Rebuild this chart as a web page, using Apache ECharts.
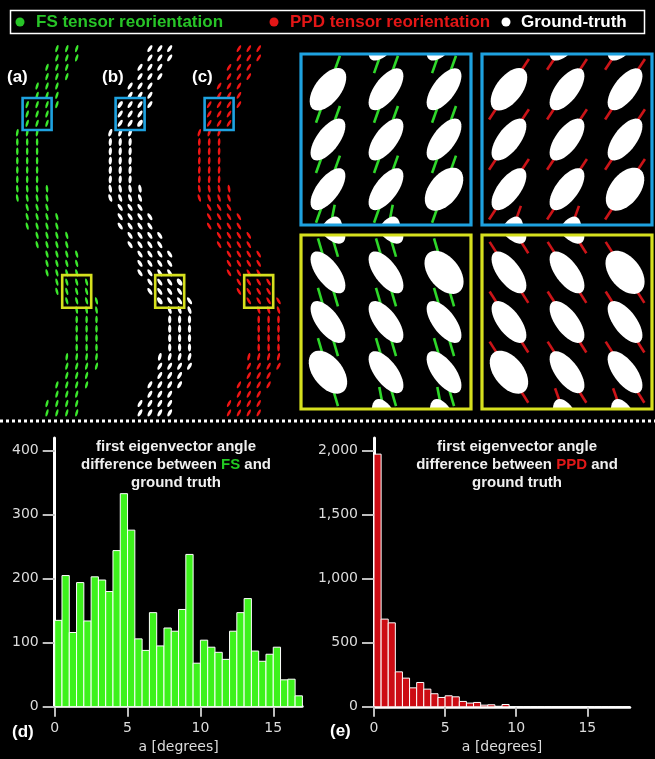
<!DOCTYPE html>
<html>
<head>
<meta charset="utf-8">
<script src="https://cdn.jsdelivr.net/npm/echarts@6/dist/echarts.min.js"></script>
<style>
  html, body { margin: 0; padding: 0; background: #000; }
  #chart { width: 655px; height: 759px; }
</style>
</head>
<body>
<div id="chart"></div>
<script>
// ---- voxel grid of the S-shaped synthetic bundle (panel units, 1 unit = 1 px) ----
const colX = [17.3, 27.2, 37.1, 47.0, 56.9, 66.8, 76.7, 86.6, 96.5];
const rowY = [48.6, 57.9, 67.3, 76.6, 86.0, 95.3, 104.6, 114.0, 123.3, 132.7,
              142.0, 151.3, 160.7, 170.0, 179.4, 188.7, 198.0, 207.4, 216.7, 226.1,
              235.4, 244.7, 254.1, 263.4, 272.8, 282.1, 291.4, 300.8, 310.1, 319.5,
              328.8, 338.1, 347.5, 356.8, 366.2, 375.5, 384.8, 394.2, 403.5, 412.9];
// first and last occupied column of each row
const rowSpan = [[4,6],[4,6],[3,5],[3,5],[2,4],[2,4],[1,4],[1,3],[1,3],[0,2],
                 [0,2],[0,2],[0,2],[0,2],[0,2],[0,3],[0,3],[1,3],[1,4],[1,4],
                 [2,5],[2,5],[3,6],[3,6],[3,6],[4,7],[4,7],[5,8],[6,8],[6,8],
                 [6,8],[6,8],[6,8],[5,8],[5,8],[5,7],[4,7],[4,6],[3,6],[3,6]];
// principal direction per row, degrees from vertical (positive leans right)
const gtAngle  = [33,33,33,33,33,33,33,33,33,20, 4,4,4,4,4,-10,-20,-33,-33,-33,
                  -33,-33,-33,-33,-33,-33,-33,-33,-20,0, 0,0,0,15,30,30,30,30,30,30];
const fsAngle  = [18,18,18,18,18,18,18,18,18,10, 0,0,0,0,0,-5,-10,-15,-15,-15,
                  -15,-15,-15,-15,-15,-15,-15,-15,-10,0, 0,0,0,8,16,16,16,16,16,16];
const ppdAngle = [31,31,31,31,31,31,31,31,31,18, 3,3,3,3,3,-8,-18,-30,-30,-30,
                  -30,-30,-30,-30,-30,-30,-30,-30,-18,0, 0,0,0,14,28,28,28,28,28,28];
// wider ground-truth ellipses: [column, row, minor axis]
const gtWide = [[1,6,4.6],[3,8,5.2],[5,27,5.2],[7,25,5.4]];
const gtMinor = 4.0;

// magnified windows [x0, y0, x1, y1]
const blueWin   = [22.6, 98.0, 51.6, 130.0];
const yellowWin = [62.2, 275.1, 91.2, 307.7];

// ---- histograms ----
const binStarts = [0,0.5,1,1.5,2,2.5,3,3.5,4,4.5,5,5.5,6,6.5,7,7.5,8,8.5,9,9.5,
                   10,10.5,11,11.5,12,12.5,13,13.5,14,14.5,15,15.5,16,16.5,17,17.5];
const binWidth = 0.5;
const fsCounts  = [135,205,116,194,134,203,198,180,244,333,276,106,88,147,95,123,118,152,238,68,
                   104,93,85,74,118,147,169,87,71,82,93,42,43,17];
const ppdCounts = [1974,685,656,273,224,148,190,138,102,73,86,78,42,29,34,13,16,4,18,0,
                   0,0,0,0,0,0,0,0,0,0,0,0,0,0,0,0];
const fsTicks  = [0, 100, 200, 300, 400];
const ppdTicks = [0, 500, 1000, 1500, 2000];
const degTicks = [0, 5, 10, 15];

const GREEN = '#3be82c', RED = '#ef1414', BLUE = '#1ea2e0', YELLOW = '#d6e01e';

// voxel table: x, y, gt angle, fs angle, ppd angle, gt minor axis
const voxels = [];
rowSpan.forEach(function (span, j) {
  for (let i = span[0]; i <= span[1]; i++) {
    let w = gtMinor;
    gtWide.forEach(function (g) { if (g[0] === i && g[1] === j) w = g[2]; });
    voxels.push([colX[i], rowY[j], gtAngle[j], fsAngle[j], ppdAngle[j], w]);
  }
});

function ellipsePoints(api, cx, cy, ang, len, wid) {
  const t = ang * Math.PI / 180;
  const ux = Math.sin(t), uy = -Math.cos(t), vx = Math.cos(t), vy = Math.sin(t);
  const a = len / 2, b = wid / 2, pts = [];
  for (let k = 0; k < 40; k++) {
    const s = k / 40 * 2 * Math.PI, c = Math.cos(s), d = Math.sin(s);
    pts.push(api.coord([cx + a * c * ux + b * d * vx, cy + a * c * uy + b * d * vy]));
  }
  return pts;
}

function clipRect(params) {
  const cs = params.coordSys;
  return { type: 'rect', shape: { x: cs.x, y: cs.y, width: cs.width, height: cs.height } };
}

// small overview panels; widScale applies to the ground-truth minor axis
function panelSeries(name, idx, angDim, len, fixedWid, widScale, color) {
  return {
    type: 'custom', name: name, xAxisIndex: idx, yAxisIndex: idx,
    data: voxels, encode: { x: 0, y: 1 }, itemStyle: { color: color }, silent: true,
    renderItem: function (params, api) {
      const wid = fixedWid || api.value(5) * widScale;
      return { type: 'polygon',
        shape: { points: ellipsePoints(api, api.value(0), api.value(1), api.value(angDim), len, wid) },
        style: { fill: color } };
    }
  };
}

// magnified views: direction segments beneath the ground-truth ellipses
function insetLines(idx, angDim, color) {
  return {
    type: 'custom', xAxisIndex: idx, yAxisIndex: idx, data: voxels, encode: { x: 0, y: 1 },
    clip: true, silent: true, z: 2,
    renderItem: function (params, api) {
      const cx = api.value(0), cy = api.value(1), t = api.value(angDim) * Math.PI / 180, h = 6.6;
      const p1 = api.coord([cx + h * Math.sin(t), cy - h * Math.cos(t)]);
      const p2 = api.coord([cx - h * Math.sin(t), cy + h * Math.cos(t)]);
      return { type: 'group', clipPath: clipRect(params), children: [
        { type: 'line', shape: { x1: p1[0], y1: p1[1], x2: p2[0], y2: p2[1] },
          style: { stroke: color, lineWidth: 2.6 } } ] };
    }
  };
}
function insetEllipses(idx) {
  return {
    type: 'custom', xAxisIndex: idx, yAxisIndex: idx, data: voxels, encode: { x: 0, y: 1 },
    clip: true, silent: true, z: 3,
    renderItem: function (params, api) {
      return { type: 'group', clipPath: clipRect(params), children: [
        { type: 'polygon',
          shape: { points: ellipsePoints(api, api.value(0), api.value(1), api.value(2), 9.0, api.value(5)) },
          style: { fill: '#ffffff' } } ] };
    }
  };
}
// window outlines
function frameSeries(idx, wins, colors, width) {
  return {
    type: 'custom', xAxisIndex: idx, yAxisIndex: idx, data: wins, encode: { x: [0, 2], y: [1, 3] },
    silent: true, z: 5,
    renderItem: function (params, api) {
      const a = api.coord([api.value(0), api.value(1)]), b = api.coord([api.value(2), api.value(3)]);
      return { type: 'rect', shape: { x: a[0], y: a[1], width: b[0] - a[0], height: b[1] - a[1] },
        style: { fill: 'none', stroke: colors[params.dataIndex], lineWidth: width } };
    }
  };
}
function histSeries(idx, counts, color) {
  const data = counts.map(function (c, i) { return [binStarts[i], binStarts[i] + binWidth, c]; });
  return {
    type: 'custom', xAxisIndex: idx, yAxisIndex: idx, data: data, encode: { x: [0, 1], y: 2 },
    silent: true,
    renderItem: function (params, api) {
      const a = api.coord([api.value(0), api.value(2)]), b = api.coord([api.value(1), 0]);
      return { type: 'rect', shape: { x: a[0], y: a[1], width: b[0] - a[0], height: b[1] - a[1] },
        style: { fill: color, stroke: '#ffffff', lineWidth: 1 } };
    }
  };
}

const grids = [
  { left: 0,   top: 40, width: 100, height: 380 },
  { left: 93,  top: 40, width: 100, height: 380 },
  { left: 182, top: 40, width: 100, height: 380 },
  { left: 301, top: 54, width: 170, height: 171 },
  { left: 482, top: 54, width: 170, height: 171 },
  { left: 301, top: 235, width: 170, height: 174 },
  { left: 482, top: 235, width: 170, height: 174 },
  { left: 54.7, top: 438, width: 247.7, height: 268.7 },
  { left: 374, top: 438, width: 256, height: 268.8 }
];
const hiddenX = function (i, min, max) { return { type: 'value', gridIndex: i, show: false, min: min, max: max }; };
const hiddenY = function (i, min, max) { return { type: 'value', gridIndex: i, show: false, inverse: true, min: min, max: max }; };

const labelFont = { color: '#dcdcdc', fontSize: 14, fontFamily: 'DejaVu Sans' };
function degAxis(i, max) {
  return { type: 'value', gridIndex: i, min: 0, max: max,
    axisLine: { show: true, onZero: false, lineStyle: { color: '#ffffff', width: 2.5 } },
    axisTick: { show: true, length: 10, customValues: degTicks, lineStyle: { color: '#bdbdbd', width: 2 } },
    axisLabel: Object.assign({ customValues: degTicks, margin: 15 }, labelFont),
    splitLine: { show: false },
    name: 'a [degrees]', nameLocation: 'middle', nameGap: 34,
    nameTextStyle: { color: '#dcdcdc', fontSize: 14, fontFamily: 'DejaVu Sans' } };
}
function countAxis(i, max, ticks) {
  return { type: 'value', gridIndex: i, min: 0, max: max,
    axisLine: { show: true, lineStyle: { color: '#ffffff', width: 3 } },
    axisTick: { show: true, length: 12, customValues: ticks, lineStyle: { color: '#bdbdbd', width: 2 } },
    axisLabel: Object.assign({ customValues: ticks, margin: 16,
      formatter: function (v) { return Number(v).toLocaleString('en-US'); } }, labelFont),
    splitLine: { show: false } };
}

const boldFont = '"Liberation Sans", Arial, sans-serif';
const option = {
  backgroundColor: '#000000',
  animation: false,
  grid: grids,
  xAxis: [hiddenX(0, 0, 100), hiddenX(1, 0, 100), hiddenX(2, 0, 100),
          hiddenX(3, blueWin[0], blueWin[2]), hiddenX(4, blueWin[0], blueWin[2]),
          hiddenX(5, yellowWin[0], yellowWin[2]), hiddenX(6, yellowWin[0], yellowWin[2]),
          degAxis(7, 17), degAxis(8, 18)],
  yAxis: [hiddenY(0, 40, 420), hiddenY(1, 40, 420), hiddenY(2, 40, 420),
          hiddenY(3, blueWin[1], blueWin[3]), hiddenY(4, blueWin[1], blueWin[3]),
          hiddenY(5, yellowWin[1], yellowWin[3]), hiddenY(6, yellowWin[1], yellowWin[3]),
          countAxis(7, 420, fsTicks), countAxis(8, 2100, ppdTicks)],
  series: [
    panelSeries('FS tensor reorientation', 0, 3, 7.6, 2.5, 1, GREEN),
    panelSeries('Ground-truth', 1, 2, 8.0, 0, 0.8, '#ffffff'),
    panelSeries('PPD tensor reorientation', 2, 4, 7.8, 2.6, 1, RED),
    frameSeries(0, [blueWin, yellowWin], [BLUE, YELLOW], 2.6),
    frameSeries(1, [blueWin, yellowWin], [BLUE, YELLOW], 2.6),
    frameSeries(2, [blueWin, yellowWin], [BLUE, YELLOW], 2.6),
    insetLines(3, 3, '#2fd82a'), insetEllipses(3), frameSeries(3, [blueWin], [BLUE], 3.2),
    insetLines(4, 4, '#cc1418'), insetEllipses(4), frameSeries(4, [blueWin], [BLUE], 3.2),
    insetLines(5, 3, '#2fd82a'), insetEllipses(5), frameSeries(5, [yellowWin], [YELLOW], 3.2),
    insetLines(6, 4, '#cc1418'), insetEllipses(6), frameSeries(6, [yellowWin], [YELLOW], 3.2),
    histSeries(7, fsCounts, '#3df21c'),
    histSeries(8, ppdCounts, '#cc0c14')
  ],
  graphic: [
    // header key
    { type: 'rect', shape: { x: 10.5, y: 10.5, width: 634, height: 23 },
      style: { fill: 'none', stroke: '#ffffff', lineWidth: 1.5 } },
    { type: 'circle', shape: { cx: 20, cy: 22, r: 4.5 }, style: { fill: '#27c427' } },
    { type: 'text', x: 36, y: 22, style: { text: 'FS tensor reorientation', fill: '#27c427',
      fontFamily: boldFont, fontWeight: 'bold', fontSize: 17, verticalAlign: 'middle' } },
    { type: 'circle', shape: { cx: 274, cy: 22, r: 4.5 }, style: { fill: '#e31616' } },
    { type: 'text', x: 290, y: 22, style: { text: 'PPD tensor reorientation', fill: '#e31616',
      fontFamily: boldFont, fontWeight: 'bold', fontSize: 17, verticalAlign: 'middle' } },
    { type: 'circle', shape: { cx: 506, cy: 22, r: 4.5 }, style: { fill: '#ffffff' } },
    { type: 'text', x: 521, y: 22, style: { text: 'Ground-truth', fill: '#ffffff',
      fontFamily: boldFont, fontWeight: 'bold', fontSize: 17, verticalAlign: 'middle' } },
    // panel letters
    { type: 'text', x: 7, y: 77, style: { text: '(a)', fill: '#ffffff', fontFamily: boldFont,
      fontWeight: 'bold', fontSize: 17, verticalAlign: 'middle' } },
    { type: 'text', x: 102, y: 77, style: { text: '(b)', fill: '#ffffff', fontFamily: boldFont,
      fontWeight: 'bold', fontSize: 17, verticalAlign: 'middle' } },
    { type: 'text', x: 192, y: 77, style: { text: '(c)', fill: '#ffffff', fontFamily: boldFont,
      fontWeight: 'bold', fontSize: 17, verticalAlign: 'middle' } },
    { type: 'text', x: 12, y: 732, style: { text: '(d)', fill: '#ffffff', fontFamily: boldFont,
      fontWeight: 'bold', fontSize: 17, verticalAlign: 'middle' } },
    { type: 'text', x: 330, y: 731, style: { text: '(e)', fill: '#ffffff', fontFamily: boldFont,
      fontWeight: 'bold', fontSize: 17, verticalAlign: 'middle' } },
    // dotted separator
    { type: 'line', shape: { x1: 0, y1: 421, x2: 655, y2: 421 },
      style: { stroke: '#ffffff', lineWidth: 3, lineDash: [3, 3] } },
    // histogram titles
    { type: 'text', x: 176, y: 438, z: 10, style: {
      text: 'first eigenvector angle\ndifference between {g|FS} and\nground truth',
      fill: '#f0f0f0', fontFamily: boldFont, fontWeight: 'bold', fontSize: 15, lineHeight: 18,
      align: 'center', verticalAlign: 'top',
      rich: { g: { fill: '#22c922', fontFamily: boldFont, fontWeight: 'bold', fontSize: 15, lineHeight: 18 } } } },
    { type: 'text', x: 517, y: 438, z: 10, style: {
      text: 'first eigenvector angle\ndifference between {r|PPD} and\nground truth',
      fill: '#f0f0f0', fontFamily: boldFont, fontWeight: 'bold', fontSize: 15, lineHeight: 18,
      align: 'center', verticalAlign: 'top',
      rich: { r: { fill: '#e01818', fontFamily: boldFont, fontWeight: 'bold', fontSize: 15, lineHeight: 18 } } } }
  ]
};

const chart = echarts.init(document.getElementById('chart'), null, { renderer: 'canvas' });
chart.setOption(option);
</script>
</body>
</html>
